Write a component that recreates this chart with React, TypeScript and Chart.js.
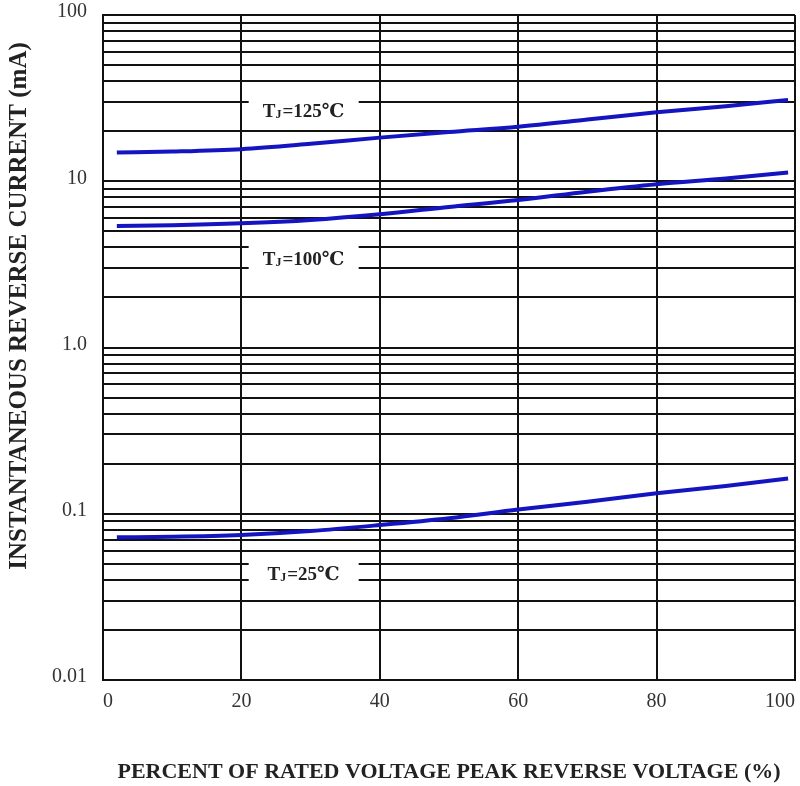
import React, { useEffect, useRef } from 'react';
import { Chart, registerables } from 'chart.js';

Chart.register(...registerables);

// ---- data ----
const xPercent = [2, 10, 20, 30, 40, 50, 60, 70, 80, 90, 99];
const current125 = [14.9, 15.1, 15.6, 16.8, 18.3, 19.8, 21.3, 23.5, 26.0, 28.3, 30.8];
const current100 = [5.38, 5.43, 5.58, 5.85, 6.33, 7.0, 7.71, 8.65, 9.59, 10.4, 11.3];
const current25 = [0.0722, 0.0727, 0.0745, 0.0787, 0.0855, 0.094, 0.106, 0.118, 0.1327, 0.147, 0.163];

const seriesNames = ['TJ=125℃', 'TJ=100℃', 'TJ=25℃'];
const labelRest = ['=125℃', '=100℃', '=25℃'];
const labelX = [29, 29, 29];
const labelY = [27, 3.45, 0.044];

const xTicks = [0, 20, 40, 60, 80, 100];
const yDecades = [0.01, 0.1, 1, 10, 100];
const yTickLabels = ['0.01', '0.1', '1.0', '10', '100'];
const yMinorMultipliers = [2, 3, 4, 5, 6, 7, 8, 9];

const xTitle = 'PERCENT OF RATED VOLTAGE PEAK REVERSE VOLTAGE (%)';
const yTitle = 'INSTANTANEOUS REVERSE CURRENT (mA)';

const SERIF = '"Liberation Serif", "Times New Roman", "DejaVu Serif", serif';
const LINE_COLOR = '#1414c0';
const GRID_COLOR = '#111111';

const labelPlugin = {
  id: 'tjLabels',
  afterDatasetsDraw(chart: any) {
    const { ctx, scales } = chart;
    const xs = scales.x;
    const ys = scales.y;
    ctx.save();
    labelRest.forEach((rest, i) => {
      const cx = xs.getPixelForValue(labelX[i]);
      const cy = ys.getPixelForValue(labelY[i]);
      ctx.fillStyle = '#ffffff';
      ctx.fillRect(cx - 55, cy - 18, 110, 36);
      ctx.fillStyle = '#222222';
      ctx.textBaseline = 'alphabetic';
      ctx.textAlign = 'left';
      ctx.font = `bold 19px ${SERIF}`;
      const wT = ctx.measureText('T').width;
      const wR = ctx.measureText(rest).width;
      ctx.font = `bold 12px ${SERIF}`;
      const wJ = ctx.measureText('J').width + 1;
      const total = wT + wJ + wR;
      const sx = cx - total / 2;
      const base = cy + 7;
      ctx.font = `bold 19px ${SERIF}`;
      ctx.fillText('T', sx, base);
      ctx.font = `bold 12px ${SERIF}`;
      ctx.fillText('J', sx + wT, base + 1);
      ctx.font = `bold 19px ${SERIF}`;
      ctx.fillText(rest, sx + wT + wJ, base);
    });
    ctx.restore();
  },
};

const yTitlePlugin = {
  id: 'yTitle',
  afterDraw(chart: any) {
    const { ctx } = chart;
    ctx.save();
    ctx.translate(20, 306);
    ctx.rotate(-Math.PI / 2);
    ctx.font = `bold 25px ${SERIF}`;
    ctx.fillStyle = '#222222';
    ctx.textAlign = 'center';
    ctx.textBaseline = 'middle';
    ctx.fillText(yTitle, 0, 0);
    ctx.restore();
  },
};

export default function App() {
  const canvasRef = useRef<HTMLCanvasElement | null>(null);

  useEffect(() => {
    if (!canvasRef.current) return;
    const mk = (vals: number[], name: string) => ({
      label: name,
      data: xPercent.map((x, i) => ({ x, y: vals[i] })),
      borderColor: LINE_COLOR,
      backgroundColor: LINE_COLOR,
      borderWidth: 4,
      pointRadius: 0,
      cubicInterpolationMode: 'monotone' as const,
      fill: false,
    });
    const chart = new Chart(canvasRef.current, {
      type: 'line',
      data: {
        datasets: [
          mk(current125, seriesNames[0]),
          mk(current100, seriesNames[1]),
          mk(current25, seriesNames[2]),
        ],
      },
      options: {
        animation: false,
        responsive: true,
        maintainAspectRatio: false,
        devicePixelRatio: 1,
        layout: { padding: { top: 15, right: 5, left: 0, bottom: 0 } },
        plugins: {
          legend: { display: false },
          tooltip: { enabled: false },
        },
        scales: {
          x: {
            type: 'linear',
            min: 0,
            max: 100,
            afterBuildTicks: (s: any) => {
              s.ticks = xTicks.map((v) => ({ value: v }));
            },
            afterFit: (s: any) => {
              s.height = 106;
              s.paddingLeft = 0;
              s.paddingRight = 0;
            },
            grid: { color: GRID_COLOR, lineWidth: 2, drawTicks: false },
            border: { color: GRID_COLOR, width: 2 },
            ticks: {
              font: { family: SERIF, size: 20 },
              color: '#333333',
              padding: 10,
              maxRotation: 0,
              autoSkip: false,
              align: 'inner',
            },
            title: {
              display: true,
              text: xTitle,
              font: { family: SERIF, size: 22, weight: 'bold' },
              color: '#222222',
              padding: { top: 0, bottom: 0 },
            },
          },
          y: {
            type: 'logarithmic',
            min: 0.01,
            max: 100,
            afterBuildTicks: (s: any) => {
              const t: { value: number }[] = [];
              for (let i = 0; i < yDecades.length - 1; i++) {
                const d = yDecades[i];
                t.push({ value: d });
                yMinorMultipliers.forEach((m) => t.push({ value: parseFloat((d * m).toPrecision(6)) }));
              }
              t.push({ value: yDecades[yDecades.length - 1] });
              s.ticks = t;
            },
            afterFit: (s: any) => {
              s.width = 103;
              s.paddingTop = 0;
              s.paddingBottom = 0;
            },
            grid: { color: GRID_COLOR, lineWidth: 2, drawTicks: false },
            border: { color: GRID_COLOR, width: 2 },
            ticks: {
              font: { family: SERIF, size: 20 },
              color: '#333333',
              padding: 16,
              labelOffset: -3,
              autoSkip: false,
              callback: (value: any) => {
                const v = Number(value);
                const idx = yDecades.findIndex((d) => Math.abs(d - v) / d < 1e-6);
                return idx >= 0 ? yTickLabels[idx] : '';
              },
            },
          },
        },
      },
      plugins: [labelPlugin, yTitlePlugin],
    } as any);
    return () => chart.destroy();
  }, []);

  return (
    <div style={{ position: 'fixed', left: 0, top: 0, width: 800, height: 786, background: '#fff' }}>
      <canvas ref={canvasRef} />
    </div>
  );
}
